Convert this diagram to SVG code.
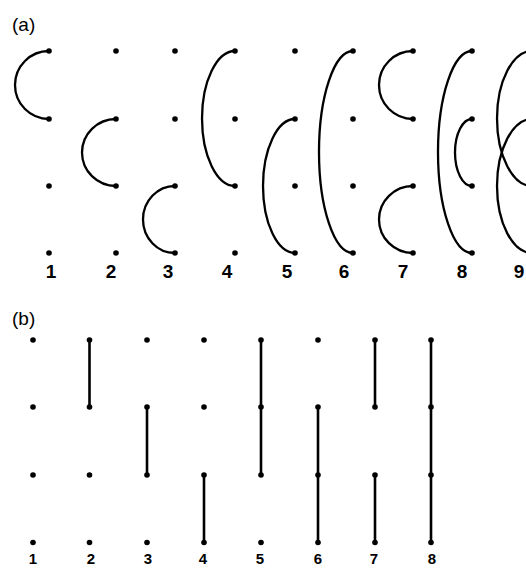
<svg xmlns="http://www.w3.org/2000/svg" width="526" height="568" viewBox="0 0 526 568">
<style>
.dot{fill:#000}
.arc{fill:none;stroke:#000;stroke-width:2.3}
.ln{fill:none;stroke:#000;stroke-width:2.6}
.lab{font-family:"Liberation Sans",Arial,sans-serif;font-weight:bold;font-size:19px;text-anchor:middle;fill:#000}
.labb{font-family:"Liberation Sans",Arial,sans-serif;font-weight:bold;font-size:15px;text-anchor:middle;fill:#000}
.ttl{font-family:"Liberation Sans",Arial,sans-serif;font-size:19px;fill:#000}
</style>
<rect width="526" height="568" fill="#fff"/>
<text class="ttl" x="12" y="31">(a)</text>
<text class="ttl" x="12" y="325">(b)</text>

<!-- Part (a) nodes -->
<g id="a1"><circle class="dot" cx="49" cy="51" r="2.8"/><circle class="dot" cx="49" cy="119" r="2.8"/><circle class="dot" cx="49" cy="186" r="2.8"/><circle class="dot" cx="49" cy="253" r="2.8"/><text class="lab" x="51" y="277.5">1</text></g>
<g id="a2"><circle class="dot" cx="116" cy="51" r="2.8"/><circle class="dot" cx="116" cy="119" r="2.8"/><circle class="dot" cx="116" cy="186" r="2.8"/><circle class="dot" cx="116" cy="253" r="2.8"/><text class="lab" x="111" y="277.5">2</text></g>
<g id="a3"><circle class="dot" cx="175" cy="51" r="2.8"/><circle class="dot" cx="175" cy="119" r="2.8"/><circle class="dot" cx="175" cy="186" r="2.8"/><circle class="dot" cx="175" cy="253" r="2.8"/><text class="lab" x="168" y="277.5">3</text></g>
<g id="a4"><circle class="dot" cx="235" cy="51" r="2.8"/><circle class="dot" cx="235" cy="119" r="2.8"/><circle class="dot" cx="235" cy="186" r="2.8"/><circle class="dot" cx="235" cy="253" r="2.8"/><text class="lab" x="227" y="277.5">4</text></g>
<g id="a5"><circle class="dot" cx="295" cy="51" r="2.8"/><circle class="dot" cx="295" cy="119" r="2.8"/><circle class="dot" cx="295" cy="186" r="2.8"/><circle class="dot" cx="295" cy="253" r="2.8"/><text class="lab" x="287" y="277.5">5</text></g>
<g id="a6"><circle class="dot" cx="353" cy="51" r="2.8"/><circle class="dot" cx="353" cy="119" r="2.8"/><circle class="dot" cx="353" cy="186" r="2.8"/><circle class="dot" cx="353" cy="253" r="2.8"/><text class="lab" x="344" y="277.5">6</text></g>
<g id="a7"><circle class="dot" cx="413" cy="51" r="2.8"/><circle class="dot" cx="413" cy="119" r="2.8"/><circle class="dot" cx="413" cy="186" r="2.8"/><circle class="dot" cx="413" cy="253" r="2.8"/><text class="lab" x="403" y="277.5">7</text></g>
<g id="a8"><circle class="dot" cx="472" cy="51" r="2.8"/><circle class="dot" cx="472" cy="119" r="2.8"/><circle class="dot" cx="472" cy="186" r="2.8"/><circle class="dot" cx="472" cy="253" r="2.8"/><text class="lab" x="462" y="277.5">8</text></g>
<g id="a9"><circle class="dot" cx="532" cy="51" r="2.8"/><circle class="dot" cx="532" cy="119" r="2.8"/><circle class="dot" cx="532" cy="186" r="2.8"/><circle class="dot" cx="532" cy="253" r="2.8"/><text class="lab" x="519" y="277.5">9</text></g>

<!-- Part (a) connectors -->
<g id="connectors-a">
<path class="arc" d="M49,51 A34,34 0 0 0 49,119"/>
<path class="arc" d="M116,119 A34,33.5 0 0 0 116,186"/>
<path class="arc" d="M175,186 A32,33.5 0 0 0 175,253"/>
<path class="arc" d="M235,51 A33,67.5 0 0 0 235,186"/>
<path class="arc" d="M295,119 A32,67 0 0 0 295,253"/>
<path class="arc" d="M353,51 A34,101 0 0 0 353,253"/>
<path class="arc" d="M413,51 A34,34 0 0 0 413,119"/>
<path class="arc" d="M413,186 A34,33.5 0 0 0 413,253"/>
<path class="arc" d="M472,51 A34,101 0 0 0 472,253"/>
<path class="arc" d="M472,119 A17,33.5 0 0 0 472,186"/>
<path class="arc" d="M532,51 A35,67.5 0 0 0 532,186"/>
<path class="arc" d="M532,119 A35,67 0 0 0 532,253"/>
</g>

<!-- Part (b) nodes -->
<g id="b1"><circle class="dot" cx="33" cy="340" r="2.8"/><circle class="dot" cx="33" cy="407" r="2.8"/><circle class="dot" cx="33" cy="475" r="2.8"/><circle class="dot" cx="33" cy="542.5" r="2.8"/><text class="labb" x="33" y="564">1</text></g>
<g id="b2"><circle class="dot" cx="89.5" cy="340" r="2.8"/><circle class="dot" cx="89.5" cy="407" r="2.8"/><circle class="dot" cx="89.5" cy="475" r="2.8"/><circle class="dot" cx="89.5" cy="542.5" r="2.8"/><text class="labb" x="91" y="564">2</text></g>
<g id="b3"><circle class="dot" cx="147" cy="340" r="2.8"/><circle class="dot" cx="147" cy="407" r="2.8"/><circle class="dot" cx="147" cy="475" r="2.8"/><circle class="dot" cx="147" cy="542.5" r="2.8"/><text class="labb" x="148" y="564">3</text></g>
<g id="b4"><circle class="dot" cx="204" cy="340" r="2.8"/><circle class="dot" cx="204" cy="407" r="2.8"/><circle class="dot" cx="204" cy="475" r="2.8"/><circle class="dot" cx="204" cy="542.5" r="2.8"/><text class="labb" x="203" y="564">4</text></g>
<g id="b5"><circle class="dot" cx="261" cy="340" r="2.8"/><circle class="dot" cx="261" cy="407" r="2.8"/><circle class="dot" cx="261" cy="475" r="2.8"/><circle class="dot" cx="261" cy="542.5" r="2.8"/><text class="labb" x="260" y="564">5</text></g>
<g id="b6"><circle class="dot" cx="318" cy="340" r="2.8"/><circle class="dot" cx="318" cy="407" r="2.8"/><circle class="dot" cx="318" cy="475" r="2.8"/><circle class="dot" cx="318" cy="542.5" r="2.8"/><text class="labb" x="318" y="564">6</text></g>
<g id="b7"><circle class="dot" cx="375" cy="340" r="2.8"/><circle class="dot" cx="375" cy="407" r="2.8"/><circle class="dot" cx="375" cy="475" r="2.8"/><circle class="dot" cx="375" cy="542.5" r="2.8"/><text class="labb" x="374" y="564">7</text></g>
<g id="b8"><circle class="dot" cx="431" cy="340" r="2.8"/><circle class="dot" cx="431" cy="407" r="2.8"/><circle class="dot" cx="431" cy="475" r="2.8"/><circle class="dot" cx="431" cy="542.5" r="2.8"/><text class="labb" x="432" y="564">8</text></g>

<!-- Part (b) connectors -->
<g id="connectors-b">
<line class="ln" x1="89.5" y1="340" x2="89.5" y2="407"/>
<line class="ln" x1="147" y1="407" x2="147" y2="475"/>
<line class="ln" x1="204" y1="475" x2="204" y2="542.5"/>
<line class="ln" x1="261" y1="340" x2="261" y2="475"/>
<line class="ln" x1="318" y1="407" x2="318" y2="542.5"/>
<line class="ln" x1="375" y1="340" x2="375" y2="407"/>
<line class="ln" x1="375" y1="475" x2="375" y2="542.5"/>
<line class="ln" x1="431" y1="340" x2="431" y2="542.5"/>
</g>
</svg>
